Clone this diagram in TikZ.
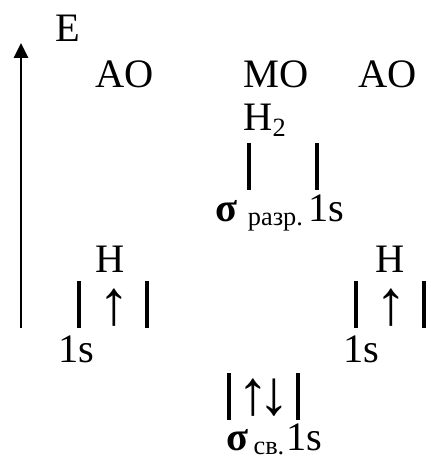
\documentclass[tikz,border=0pt]{standalone}
\usepackage{fontspec}
\setmainfont{Liberation Serif}
\usetikzlibrary{arrows.meta, positioning}

\begin{document}
\begin{tikzpicture}[x=0.02cm, y=-0.02cm]
    \tikzstyle{lbl} = [anchor=base west, inner sep=0pt, font=\fontsize{23}{28}\selectfont]
    \tikzstyle{spin} = [anchor=center, inner sep=0pt, font=\fontsize{36}{38}\selectfont]
    \tikzstyle{bar} = [line width=2pt]
    \tikzstyle{axis} = [line width=1.5pt, -{Triangle[length=0.3cm, width=0.28cm]}]
    \newcommand{\lowsub}[1]{\raisebox{-0.25ex}{\fontsize{15}{17}\selectfont #1}}

    \useasboundingbox (0,0) rectangle (431,460);

    % energy axis
    \coordinate (ebottom) at (21,328);
    \coordinate (etop) at (21,43);
    \draw[axis] (ebottom) -- (etop);
    \node[lbl] (energy) at (55,41) {E};

    % headings
    \node[lbl] (aoleft) at (95,87) {AO};
    \node[lbl] (mo) at (243,87) {MO};
    \node[lbl] (aoright) at (358,87) {AO};
    \node[lbl] (molecule) at (243,130) {H\raisebox{-0.35ex}{\fontsize{15}{17}\selectfont 2}};

    % antibonding orbital
    \draw[bar] (249,143) -- (249,190);
    \draw[bar] (317,143) -- (317,190);
    \node[lbl] (antibond) at (215,221) {\textbf{σ}\hspace{6pt}\lowsub{разр.}\hspace{3pt}1s};

    % atomic orbitals
    \node[lbl] (hleft) at (95,272) {H};
    \node[lbl] (hright) at (375,272) {H};
    \draw[bar] (79,281) -- (79,328);
    \draw[bar] (147,281) -- (147,328);
    \draw[bar] (356,281) -- (356,328);
    \draw[bar] (424,281) -- (424,328);
    \node[spin] (spinleft) at (114,308) {↑};
    \node[spin] (spinright) at (391,308) {↑};
    \node[lbl] (sleft) at (58,362) {1s};
    \node[lbl] (sright) at (343,362) {1s};

    % bonding orbital
    \draw[bar] (229,373) -- (229,420);
    \draw[bar] (298,373) -- (298,420);
    \node[spin] (spinup) at (253,398) {↑};
    \node[spin] (spindown) at (274,398) {↓};
    \node[lbl] (bond) at (226,450) {\textbf{σ}\hspace{3pt}\lowsub{св.}\hspace{1pt}1s};
\end{tikzpicture}
\end{document}
